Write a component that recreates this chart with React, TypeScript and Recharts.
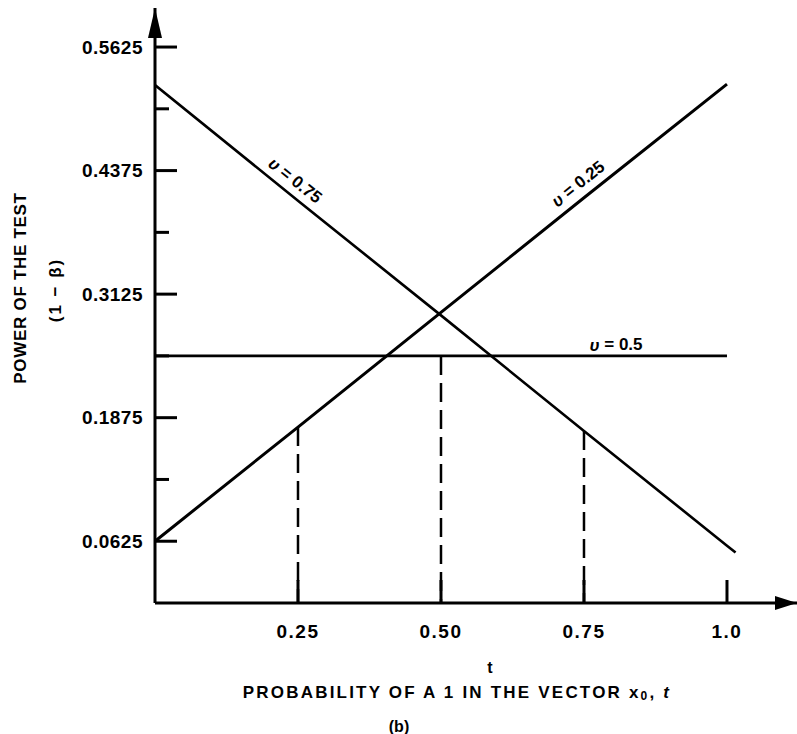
import { LineChart, Line, XAxis, YAxis, ReferenceLine, ReferenceDot } from "recharts";

// probability of a 1 in the vector (t)
const tValues = [0, 0.25, 0.5, 0.75, 1.0, 1.015];
// power of the test (1 - beta) for each v
const v25Power = [0.0625, 0.178, 0.294, 0.41, 0.525, null];
const v50Power = [0.25, 0.25, 0.25, 0.25, 0.25, null];
const v75Power = [0.524, 0.407, 0.291, 0.174, 0.058, 0.051];

const xTicks = [0.25, 0.5, 0.75, 1.0];
const xTickLabels = ["0.25", "0.50", "0.75", "1.0"];
const yTicks = [0.0625, 0.125, 0.1875, 0.25, 0.3125, 0.375, 0.4375, 0.5, 0.5625];
const yTickLabels = ["0.0625", "", "0.1875", "", "0.3125", "", "0.4375", "", "0.5625"];

// dashed drops: t value and the curve they rise to
const guideT = [0.25, 0.5, 0.75];
const guideTop = [v25Power[1], v50Power[2], v75Power[3]];

const data = tValues.map((t, i) => ({
  t,
  v25: v25Power[i],
  v50: v50Power[i],
  v75: v75Power[i],
}));

const X_MAX = 1.1224;
const Y_MAX = 0.602;
const FONT = "'Liberation Sans', Arial, Helvetica, sans-serif";

function XTick({ x, y, payload }: any) {
  const i = xTicks.indexOf(payload.value);
  return (
    <g>
      <line x1={x} x2={x} y1={y} y2={y - 23} stroke="#000" strokeWidth={3} />
      <text
        x={x}
        y={y + 28}
        textAnchor="middle"
        dominantBaseline="central"
        fontFamily={FONT}
        fontWeight="bold"
        fontSize={19}
        letterSpacing={1.5}
        fill="#000"
      >
        {xTickLabels[i]}
      </text>
    </g>
  );
}

function YTick({ x, y, payload }: any) {
  const i = yTicks.indexOf(payload.value);
  const label = yTickLabels[i];
  return (
    <g>
      <line x1={x} x2={x + (label ? 22 : 14)} y1={y} y2={y} stroke="#000" strokeWidth={3} />
      {label && (
        <text
          x={x - 12}
          y={y}
          textAnchor="end"
          dominantBaseline="central"
          fontFamily={FONT}
          fontWeight="bold"
          fontSize={19}
          letterSpacing={0.5}
          fill="#000"
        >
          {label}
        </text>
      )}
    </g>
  );
}

function CurveLabel({ cx, cy, value, angle, dx, dy }: any) {
  return (
    <text
      transform={`translate(${cx},${cy}) rotate(${angle}) translate(${dx},${dy})`}
      textAnchor="middle"
      dominantBaseline="central"
      fontFamily={FONT}
      fontWeight="bold"
      fontSize={17}
      fill="#000"
    >
      <tspan fontStyle="italic">υ</tspan> = {value}
    </text>
  );
}

export default function App() {
  return (
    <div style={{ position: "absolute", left: 0, top: 0, background: "#fff" }}>
      <LineChart
        width={797}
        height={734}
        data={data}
        margin={{ top: 8, right: 0, bottom: 130, left: 154 }}
      >
        <defs>
          <marker
            id="arrowX"
            markerUnits="userSpaceOnUse"
            markerWidth={22}
            markerHeight={14}
            viewBox="0 0 22 14"
            refX={22}
            refY={7}
            orient="auto"
          >
            <path d="M0,0 L22,7 L0,14 Z" fill="#000" />
          </marker>
          <marker
            id="arrowY"
            markerUnits="userSpaceOnUse"
            markerWidth={30}
            markerHeight={14}
            viewBox="0 0 30 14"
            refX={30}
            refY={7}
            orient="auto-start-reverse"
          >
            <path d="M0,0 L30,7 L0,14 Z" fill="#000" />
          </marker>
        </defs>
        <XAxis
          type="number"
          dataKey="t"
          domain={[0, X_MAX]}
          allowDataOverflow
          ticks={xTicks}
          interval={0}
          height={1}
          tickSize={0}
          tickMargin={0}
          tickLine={false}
          axisLine={{ stroke: "#000", strokeWidth: 3, markerEnd: "url(#arrowX)" }}
          tick={<XTick />}
        />
        <YAxis
          type="number"
          domain={[0, Y_MAX]}
          allowDataOverflow
          ticks={yTicks}
          interval={0}
          width={1}
          tickSize={0}
          tickMargin={0}
          tickLine={false}
          axisLine={{ stroke: "#000", strokeWidth: 3, markerStart: "url(#arrowY)" }}
          tick={<YTick />}
        />
        {guideT.map((t, i) => (
          <ReferenceLine
            key={t}
            segment={[
              { x: t, y: guideTop[i] as number },
              { x: t, y: 0 },
            ]}
            stroke="#000"
            strokeWidth={2.5}
            strokeDasharray="19 8"
          />
        ))}
        <Line dataKey="v25" type="linear" stroke="#000" strokeWidth={3} dot={false} isAnimationActive={false} />
        <Line dataKey="v50" type="linear" stroke="#000" strokeWidth={2.8} dot={false} isAnimationActive={false} />
        <Line dataKey="v75" type="linear" stroke="#000" strokeWidth={2.6} dot={false} isAnimationActive={false} />
        <ReferenceDot
          x={tValues[1]}
          y={v75Power[1] as number}
          r={0}
          shape={(p: any) => <CurveLabel {...p} value="0.75" angle={38.8} dx={-15} dy={-14} />}
        />
        <ReferenceDot
          x={tValues[3]}
          y={v25Power[3] as number}
          r={0}
          shape={(p: any) => <CurveLabel {...p} value="0.25" angle={-38.5} dx={4} dy={-14.5} />}
        />
        <ReferenceDot
          x={tValues[3]}
          y={v50Power[3] as number}
          r={0}
          shape={(p: any) => <CurveLabel {...p} value="0.5" angle={0} dx={32} dy={-11} />}
        />
        <text
          transform="translate(20,288) rotate(-90)"
          textAnchor="middle"
          dominantBaseline="central"
          fontFamily={FONT}
          fontWeight="bold"
          fontSize={17}
          letterSpacing={0.7}
        >
          POWER OF THE TEST
        </text>
        <text
          transform="translate(55,290) rotate(-90)"
          textAnchor="middle"
          dominantBaseline="central"
          fontFamily={FONT}
          fontWeight="bold"
          fontSize={17}
          letterSpacing={2}
        >
          (1 − β)
        </text>
        <text x={490} y={667} textAnchor="middle" dominantBaseline="central" fontFamily={FONT} fontWeight="bold" fontSize={16}>
          t
        </text>
        <text x={457} y={692} textAnchor="middle" dominantBaseline="central" fontFamily={FONT} fontWeight="bold" fontSize={17} letterSpacing={2.2}>
          PROBABILITY OF A 1 IN THE VECTOR x
          <tspan fontSize={12} dy={4}>0</tspan>
          <tspan dy={-4}>, </tspan>
          <tspan fontStyle="italic">t</tspan>
        </text>
        <text x={399} y={726} textAnchor="middle" dominantBaseline="central" fontFamily={FONT} fontWeight="bold" fontSize={16}>
          (b)
        </text>
      </LineChart>
    </div>
  );
}
